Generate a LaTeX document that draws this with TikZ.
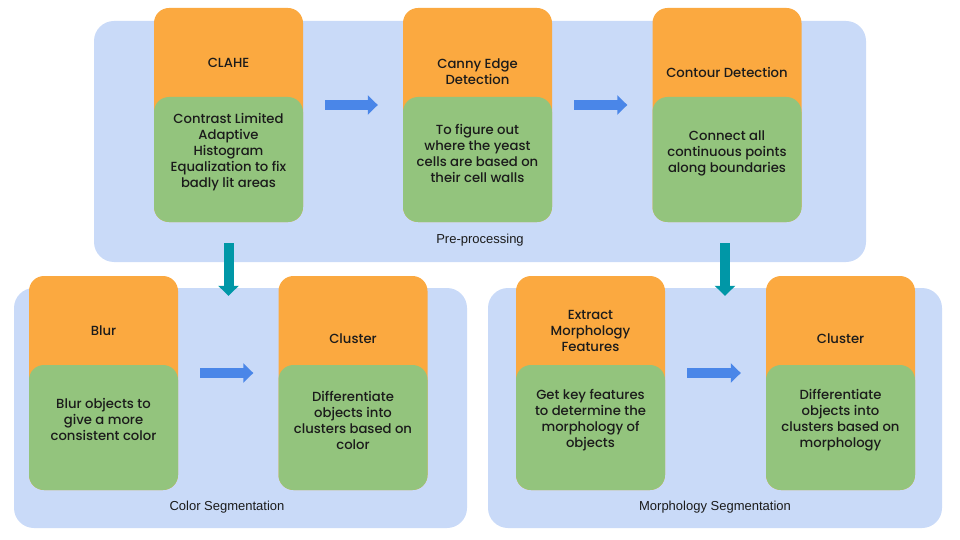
\documentclass[tikz,border=0pt]{standalone}
\usepackage{fontspec}
\setmainfont{Poppins}[UprightFont=* Medium]
\newfontfamily\labelfont{Liberation Sans}
\usetikzlibrary{arrows.meta,calc}
\definecolor{panelblue}{HTML}{C9DAF8}
\definecolor{boxorange}{HTML}{FBA940}
\definecolor{boxgreen}{HTML}{93C47D}
\definecolor{arrowblue}{HTML}{4A86E8}
\definecolor{arrowteal}{HTML}{0097A7}
\definecolor{textdark}{HTML}{1B1B1B}
\tikzset{
  panel/.style={fill=panelblue, rounded corners=20pt, inner sep=0pt},
  stagebox/.style={fill=boxorange, rounded corners=15pt, minimum width=149pt, minimum height=214pt, inner sep=0pt},
  bodybox/.style={fill=boxgreen, rounded corners=15pt, minimum width=149pt, minimum height=125pt, inner sep=0pt},
  titletext/.style={font=\fontsize{13.2}{16}\selectfont, text=textdark, align=center},
  bodytext/.style={font=\fontsize{13.2}{16}\selectfont, text=textdark, align=center},
  paneltext/.style={font=\labelfont\fontsize{13}{15}\selectfont, text=textdark},
  flow/.style={draw=arrowblue, line width=10pt, -{Triangle[length=10pt,width=19pt]}, shorten <=22pt, shorten >=25pt},
  down/.style={draw=arrowteal, line width=10pt, -{Triangle[length=10pt,width=20pt]}, shorten <=21pt},
}
\begin{document}
\begin{tikzpicture}[x=1pt,y=-1pt]
\useasboundingbox (0,0) rectangle (960,540);
% panels
\node[panel, minimum width=772pt, minimum height=241pt] (pre) at (480,141.5) {};
\node[panel, minimum width=453pt, minimum height=240pt] (colp) at (240.5,408) {};
\node[panel, minimum width=454pt, minimum height=240pt] (morp) at (715,408) {};
\node[paneltext] (prel) at (480,240) {Pre-processing};
\node[paneltext] (coll) at (227,507) {Color Segmentation};
\node[paneltext] (morl) at (715,507) {Morphology Segmentation};
% top row
\node[stagebox] (clahe) at (228.5,115) {};
\node[bodybox] (claheb) at (228.5,159.5) {};
\node[titletext] (claht) at (228.5,63) {CLAHE};
\node[bodytext] (clahx) at (228.5,152) {Contrast Limited\\Adaptive\\Histogram\\Equalization to fix\\badly lit areas};

\node[stagebox] (canny) at (477.5,115) {};
\node[bodybox] (cannyb) at (477.5,159.5) {};
\node[titletext] (cannt) at (477.5,72) {Canny Edge\\Detection};
\node[bodytext] (cannx) at (477.5,153) {To figure out\\where the yeast\\cells are based on\\their cell walls};

\node[stagebox] (cont) at (727,115) {};
\node[bodybox] (contb) at (727,159.5) {};
\node[titletext] (contt) at (727,72) {Contour Detection};
\node[bodytext] (contx) at (727,153) {Connect all\\continuous points\\along boundaries};

% bottom left
\node[stagebox] (blur) at (103.5,383) {};
\node[bodybox] (blurb) at (103.5,427.5) {};
\node[titletext] (blurt) at (103.5,331) {Blur};
\node[bodytext] (blurx) at (103.5,419) {Blur objects to\\give a more\\consistent color};

\node[stagebox] (clc) at (353,383) {};
\node[bodybox] (clcb) at (353,427.5) {};
\node[titletext] (clct) at (353,339) {Cluster};
\node[bodytext] (clcx) at (353,420) {Differentiate\\objects into\\clusters based on\\color};

% bottom right
\node[stagebox] (ext) at (590.5,383) {};
\node[bodybox] (extb) at (590.5,427.5) {};
\node[titletext] (extt) at (590.5,331) {Extract\\Morphology\\Features};
\node[bodytext] (extx) at (590.5,420) {Get key features\\to determine the\\morphology of\\objects};

\node[stagebox] (clm) at (840.5,383) {};
\node[bodybox] (clmb) at (840.5,427.5) {};
\node[titletext] (clmt) at (840.5,339) {Cluster};
\node[bodytext] (clmx) at (840.5,420) {Differentiate\\objects into\\clusters based on\\morphology};

% connectors
\draw[flow] ([yshift=10pt]clahe.east) -- ([yshift=10pt]canny.west);
\draw[flow] ([yshift=10pt]canny.east) -- ([yshift=10pt]cont.west);
\draw[flow] ([yshift=10pt]blur.east) -- ([yshift=10pt]clc.west);
\draw[flow] ([yshift=10pt]ext.east) -- ([yshift=10pt]clm.west);
\draw[down, shorten >=-8pt] (clahe.south) -- (clahe.south |- colp.north);
\draw[down, shorten >=-8pt] ([xshift=-2pt]cont.south) -- ([xshift=-2pt]cont.south |- morp.north);
\end{tikzpicture}
\end{document}
